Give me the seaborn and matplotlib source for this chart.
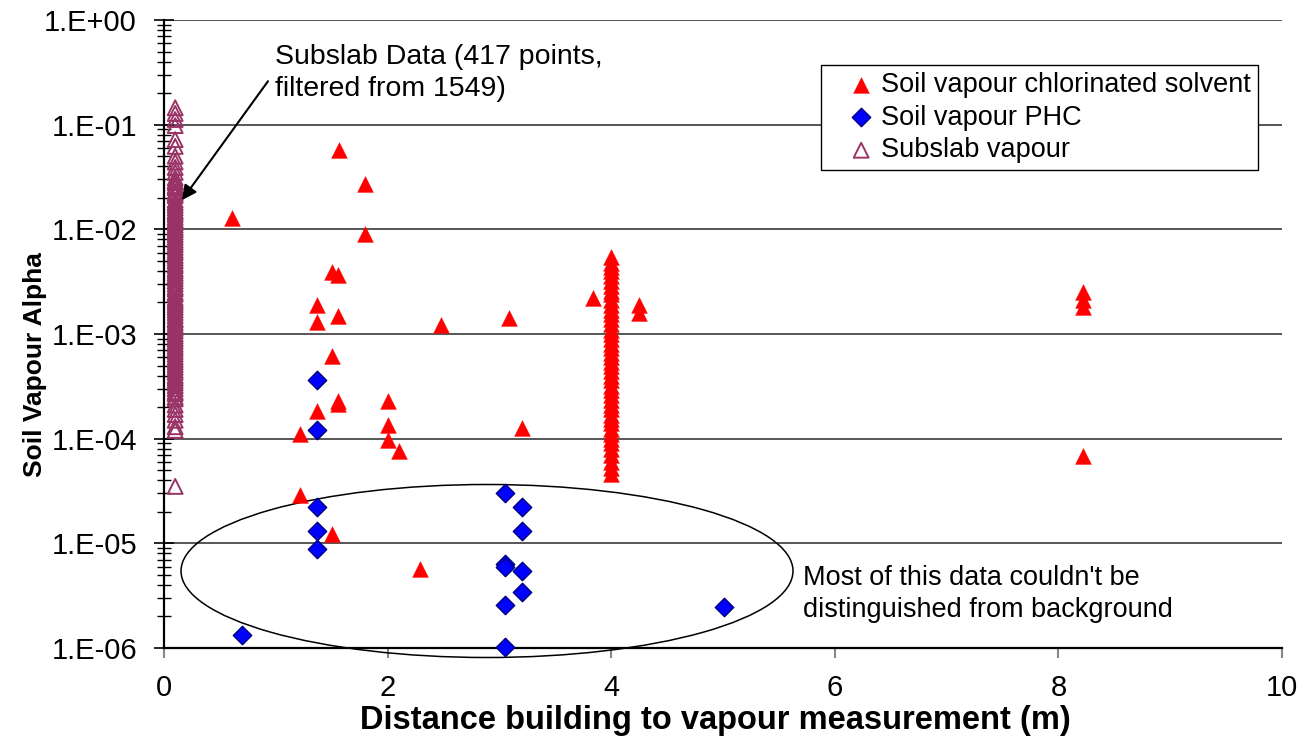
import numpy as np
import pandas as pd
import matplotlib
matplotlib.use("Agg")
import matplotlib.pyplot as plt
import matplotlib.ticker as mticker
from matplotlib.patches import Ellipse
import seaborn as sns

# ---------------- data ----------------
# Soil vapour chlorinated solvent (scattered points)
chl_x = [0.605, 1.565, 1.80, 1.80, 1.505, 1.56, 1.37, 1.37, 1.56, 2.478, 3.09,
         1.505, 1.56, 1.56, 1.37, 2.0, 2.0, 2.0, 2.10, 1.216, 3.2, 1.216, 1.505,
         2.29, 3.84, 4.25, 4.25, 8.22, 8.22, 8.22, 8.22]
chl_y = [0.0128, 0.0568, 0.0269, 0.0090, 0.0039, 0.0037, 0.0019, 0.0013, 0.00147,
         0.00123, 0.00141, 6.2e-4, 2.3e-4, 2.15e-4, 1.84e-4, 2.27e-4, 1.34e-4,
         9.8e-5, 7.7e-5, 1.1e-4, 1.27e-4, 2.9e-5, 1.23e-5, 5.7e-6, 2.2e-3, 1.9e-3,
         1.6e-3, 2.5e-3, 2.1e-3, 1.8e-3, 6.9e-5]
# chlorinated solvent column at 4 m
chl4_x = 4.0
chl4_y = [5.4e-3, 4.8e-3, 4.4e-3, 4.0e-3, 3.6e-3, 3.2e-3, 2.9e-3, 2.6e-3, 2.4e-3,
          2.1e-3, 1.9e-3, 1.7e-3, 1.55e-3, 1.4e-3, 1.25e-3, 1.1e-3, 1.0e-3, 9e-4,
          8.1e-4, 7.3e-4, 6.6e-4, 6e-4, 5.4e-4, 4.9e-4, 4.4e-4, 4e-4, 3.6e-4,
          3.2e-4, 2.9e-4, 2.6e-4, 2.35e-4, 2.1e-4, 1.9e-4, 1.7e-4, 1.55e-4,
          1.4e-4, 1.25e-4, 1.12e-4, 1e-4, 9e-5, 8e-5, 7e-5, 6e-5, 5.2e-5, 4.6e-5]

# Soil vapour PHC
phc_x = [1.37, 1.37, 1.37, 1.37, 1.37, 0.695, 3.05, 3.2, 3.2, 3.05, 3.05, 3.2,
         3.2, 3.05, 3.05, 5.01]
phc_y = [3.6e-4, 1.2e-4, 2.2e-5, 1.3e-5, 8.9e-6, 1.33e-6, 3.0e-5, 2.2e-5, 1.32e-5,
         6.35e-6, 5.9e-6, 5.45e-6, 3.4e-6, 2.55e-6, 1.03e-6, 2.47e-6]

# Subslab vapour (all at ~0.1 m)
sub_x = 0.1
sub_y = [0.145, 0.128, 0.112, 0.098, 0.072, 0.062, 0.05, 0.044, 0.039, 0.035,
         0.031, 0.029, 0.028, 0.026, 0.025, 0.023, 0.022, 0.021, 0.019, 0.018,
         0.017, 0.016, 0.015, 0.0145, 0.0138, 0.013, 0.0123, 0.0116, 0.011,
         0.0104, 0.0099, 0.0094, 0.0089, 0.0084, 0.0079, 0.0075, 0.0071, 0.0067,
         0.0063, 0.006, 0.0056, 0.0053, 0.005, 0.0047, 0.0045, 0.0042, 0.004,
         0.0038, 0.0036, 0.0034, 0.0032, 0.003, 0.0028, 0.0027, 0.0025, 0.0024,
         0.0022, 0.0021, 0.002, 0.0019, 0.0018, 0.0017, 0.0016, 0.0015, 0.0014,
         0.00135, 0.00127, 0.0012, 0.00113, 0.00107, 0.001, 0.00095, 0.0009,
         0.00085, 0.0008, 0.00076, 0.00072, 0.00068, 0.00064, 0.0006, 0.00057,
         0.00054, 0.00051, 0.00048, 0.00045, 0.00043, 0.0004, 0.00038, 0.00036,
         0.00034, 0.00032, 0.0003, 0.00028, 0.00027, 0.00025, 0.00024, 0.00021,
         0.00019, 0.00017, 0.00015, 0.00013, 0.00012, 3.5e-5]

labels = ["Soil vapour chlorinated solvent", "Soil vapour PHC", "Subslab vapour"]
x_ticks = [0, 2, 4, 6, 8, 10]

df_chl = pd.DataFrame({"x": chl_x + [chl4_x] * len(chl4_y), "y": chl_y + chl4_y})
df_phc = pd.DataFrame({"x": phc_x, "y": phc_y})
df_sub = pd.DataFrame({"x": [sub_x] * len(sub_y), "y": sub_y})

# ---------------- style ----------------
sns.set_style("white")
plt.rcParams["font.family"] = ["Liberation Sans", "DejaVu Sans"]
plt.rcParams["text.color"] = "black"
plt.rcParams["axes.labelcolor"] = "black"
plt.rcParams["xtick.labelcolor"] = "black"
plt.rcParams["ytick.labelcolor"] = "black"

W, H = 1305, 743
fig = plt.figure(figsize=(W / 100, H / 100), dpi=100)
L, R, T, B = 164, 1282, 20, 648
ax = fig.add_axes([L / W, 1 - B / H, (R - L) / W, (B - T) / H])

sns.scatterplot(data=df_chl, x="x", y="y", ax=ax, marker="^", s=130,
                color="#FF0000", edgecolor="#FF0000", linewidth=0.3,
                label=labels[0], zorder=4)
sns.scatterplot(data=df_phc, x="x", y="y", ax=ax, marker="D", s=88,
                color="#0000FF", edgecolor="#000080", linewidth=1.0,
                label=labels[1], zorder=5)
sns.scatterplot(data=df_sub, x="x", y="y", ax=ax, marker="^", s=115,
                color="#993366", edgecolor="#993366", linewidth=1.4,
                label=labels[2], zorder=3)
colls = ax.collections
colls[2].set_facecolor("none")
for c in colls:
    c.set_clip_on(False)

ax.set_yscale("log")
ax.set_ylim(1e-6, 1)
ax.set_xlim(0, 10)
ax.set_xticks(x_ticks)
ax.yaxis.set_major_locator(mticker.LogLocator(base=10, numticks=10))
ax.yaxis.set_minor_locator(mticker.LogLocator(base=10, subs=np.arange(2, 10), numticks=20))
ax.yaxis.set_minor_formatter(mticker.NullFormatter())
ax.yaxis.set_major_formatter(mticker.FuncFormatter(
    lambda v, _: "1.E{:+03d}".format(int(round(np.log10(v))))))

ax.yaxis.grid(True, which="major", color="#3a3a3a", linewidth=1.2)
ax.xaxis.grid(False)
ax.set_axisbelow(True)

for s in ["top", "right"]:
    ax.spines[s].set_visible(False)
for s in ["left", "bottom"]:
    ax.spines[s].set_color("black")
    ax.spines[s].set_linewidth(1.6)

ax.tick_params(axis="y", which="major", direction="inout", length=14, width=1.2,
               color="black", labelcolor="black", labelsize=21, pad=12.5, left=True)
ax.tick_params(axis="y", which="minor", direction="inout", length=10, width=1.0,
               color="black", left=True)
ax.tick_params(axis="x", which="major", direction="out", length=7, width=1.5,
               color="#888888", labelcolor="black", labelsize=21, pad=12, bottom=True)

ax.set_xlabel("Distance building to vapour measurement (m)", fontsize=23.5,
              fontweight="bold", color="black")
ax.set_ylabel("Soil Vapour Alpha", fontsize=19, fontweight="bold", color="black")
ax.xaxis.set_label_coords((715 - L) / (R - L), (B - 705) / (B - T))
ax.yaxis.set_label_coords((47 - L) / (R - L), (B - 365) / (B - T))

# legend
leg = ax.legend(loc="upper right", bbox_to_anchor=((1258 - L) / (R - L), (B - 65) / (B - T)),
                fontsize=19.5, frameon=True, fancybox=False, edgecolor="black",
                framealpha=1, borderpad=0.25, labelspacing=0.25, handlelength=2.5,
                handletextpad=-0.5, borderaxespad=0, markerscale=1.0,
                scatterpoints=1)
leg.get_frame().set_linewidth(1.0)
for t in leg.get_texts():
    t.set_color("black")

# annotations
ax.annotate("", xy=(0.16, 0.019), xytext=(0.93, 0.26),
            arrowprops=dict(arrowstyle="-|>", color="black", lw=1.5,
                            mutation_scale=22, shrinkA=0, shrinkB=0), zorder=6)
ax.text((275 - L) / (R - L), (B - 44) / (B - T),
        "Subslab Data (417 points,\nfiltered from 1549)", color="black",
        transform=ax.transAxes, fontsize=20.5, va="top", ha="left", linespacing=1.32)
ell = Ellipse(((487 - L) / (R - L), (B - 571) / (B - T)),
              width=612 / (R - L), height=173 / (B - T), transform=ax.transAxes,
              fill=False, edgecolor="black", linewidth=1.1, clip_on=False, zorder=2)
ax.add_patch(ell)
ax.text((803 - L) / (R - L), (B - 594) / (B - T),
        "Most of this data couldn't be\ndistinguished from background", color="black",
        transform=ax.transAxes, fontsize=19.5, va="center", ha="left", linespacing=1.3)

fig.savefig("out.png", dpi=100)
